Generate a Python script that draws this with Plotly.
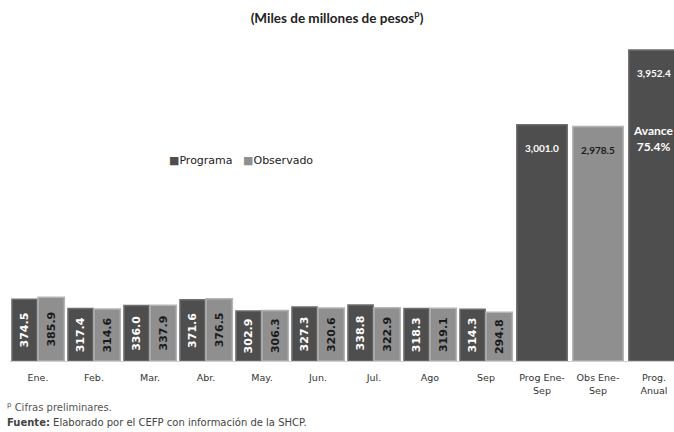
import plotly.graph_objects as go

months = ["Ene.", "Feb.", "Mar.", "Abr.", "May.", "Jun.", "Jul.", "Ago", "Sep"]
programa = [374.5, 317.4, 336.0, 371.6, 302.9, 327.3, 338.8, 318.3, 314.3]
observado = [385.9, 314.6, 337.9, 376.5, 306.3, 320.6, 322.9, 319.1, 294.8]

tot_cats = ["Prog Ene-<br>Sep", "Obs Ene-<br>Sep", "Prog.<br>Anual"]
tot_vals = [3001.0, 2978.5, 3952.4]

all_cats = months + tot_cats

DARK = "#4e4e4e"
DARK_LINE = "#6e6e6e"
LIGHT = "#8f8f8f"
LIGHT_LINE = "#b4b4b4"
FONT = "Lato"
WIDE = "DejaVu Sans"

fig = go.Figure()

fig.add_trace(go.Bar(
    name="Programa", x=months, y=programa,
    offset=-0.465, width=0.45, showlegend=False,
    marker=dict(color=DARK, line=dict(color=DARK_LINE, width=1.5)),
    text=[f"{v:.1f}" for v in programa], textposition="inside",
    insidetextanchor="middle", textangle=-90,
    textfont=dict(family=WIDE, size=11, color="white", weight="bold"),
    hoverinfo="skip",
))
fig.add_trace(go.Bar(
    name="Observado", x=months, y=observado,
    offset=0.0, width=0.47, showlegend=False,
    marker=dict(color=LIGHT, line=dict(color=LIGHT_LINE, width=1.5)),
    text=[f"{v:.1f}" for v in observado], textposition="inside",
    insidetextanchor="middle", textangle=-90,
    textfont=dict(family=WIDE, size=11, color="#1a1a1a", weight="bold"),
    hoverinfo="skip",
))
fig.add_trace(go.Bar(
    name="Totales", x=tot_cats, y=tot_vals, yaxis="y2",
    offset=-0.45, width=0.9, showlegend=False,
    marker=dict(color=[DARK, LIGHT, DARK],
                line=dict(color=[DARK_LINE, LIGHT_LINE, DARK_LINE], width=1.5)),
    hoverinfo="skip",
))

annotations = []
label_colors = ["white", "#1a1a1a", "white"]
for c, v, col in zip(tot_cats, tot_vals, label_colors):
    annotations.append(dict(
        x=c, y=v, xref="x", yref="y2", text=f"{v:,.1f}", showarrow=False,
        yanchor="middle", yshift=-23,
        font=dict(family=FONT, size=10, color=col, weight="bold"),
    ))

avance = tot_vals[1] / tot_vals[2] * 100
annotations.append(dict(
    x=tot_cats[2], y=tot_vals[1], xref="x", yref="y2",
    text=f"Avance<br>{avance:.1f}%", showarrow=False,
    yanchor="middle", yshift=-12, xshift=-1,
    font=dict(family=FONT, size=12, color="white", weight="bold"),
))

# legend drawn as text with coloured squares
annotations.append(dict(
    x=0.237, y=0.626, xref="paper", yref="paper", xanchor="left", yanchor="middle",
    text=(f"<span style='color:{DARK}'>■</span>Programa"
          f"&nbsp;&nbsp;&nbsp;<span style='color:{LIGHT}'>■</span>Observado"),
    showarrow=False,
    font=dict(family=WIDE, size=11, color="#222222"),
))

annotations.append(dict(
    x=-0.008, y=-0.143, xref="paper", yref="paper", xanchor="left", yanchor="middle",
    text="<sup>p</sup> Cifras preliminares.", showarrow=False,
    font=dict(family=WIDE, size=10, color="#555555"),
))
annotations.append(dict(
    x=-0.008, y=-0.193, xref="paper", yref="paper", xanchor="left", yanchor="middle",
    text="<b>Fuente:</b> Elaborado por el CEFP con información de la SHCP.", showarrow=False,
    font=dict(family=WIDE, size=10, color="#444444"),
))

fig.update_layout(
    width=674, height=432,
    margin=dict(l=10, r=0, t=40, b=71),
    paper_bgcolor="white", plot_bgcolor="white",
    barmode="overlay", showlegend=False,
    title=dict(text="(Miles de millones de pesos<sup>p</sup>)", x=0.5, xanchor="center",
               y=1 - 18 / 432, yanchor="middle", yref="container",
               font=dict(family=FONT, size=13.5, color="#222222", weight="bold")),
    xaxis=dict(categoryorder="array", categoryarray=all_cats,
               range=[-0.5, 11.357], showgrid=False, zeroline=False,
               showline=True, linecolor="#d0d0d0", linewidth=1,
               ticks="outside", ticklen=8, tickcolor="rgba(0,0,0,0)",
               tickfont=dict(family=WIDE, size=9.5, color="#333333")),
    yaxis=dict(range=[0, 1945], visible=False, showgrid=False, zeroline=False),
    yaxis2=dict(range=[0, 4079], visible=False, overlaying="y", showgrid=False,
                zeroline=False),
    annotations=annotations,
)

fig.write_html("out.html", config={"displayModeBar": False},
               post_script="document.body.style.margin='0';document.body.style.padding='0';")
